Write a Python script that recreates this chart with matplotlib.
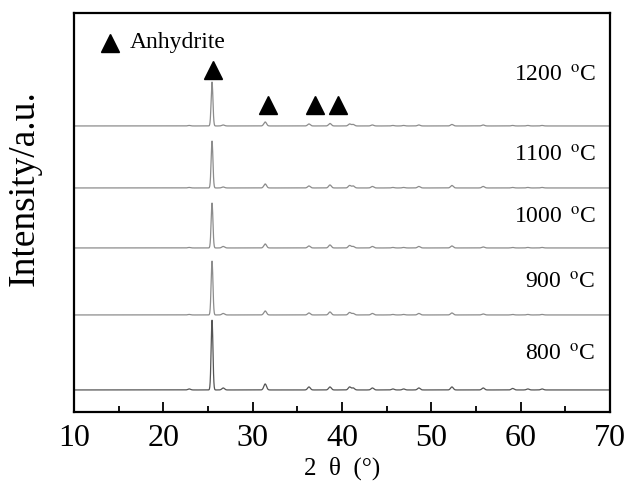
import numpy as np
import matplotlib.pyplot as plt
from matplotlib.ticker import MultipleLocator

plt.rcParams['mathtext.fontset'] = 'stix'

# temperatures, bottom to top
temps = ['800', '900', '1000', '1100', '1200']

# anhydrite reflections (2theta, degrees)
peak_pos = [22.9, 25.45, 26.7, 31.4, 36.3, 38.65, 40.85, 41.25, 43.4,
            45.7, 46.9, 48.6, 52.3, 55.8, 59.1, 60.8, 62.4]

# peak heights per pattern (a.u.)
h_800 = [1, 70, 2, 6, 3, 3, 3, 2, 2, 1, 1, 2, 3, 2, 1.5, 1, 1]
h_900 = [0.5, 54, 1.5, 4, 2, 3, 2.5, 1.5, 1.5, 0.5, 0.5, 1.5, 2, 1, 0.5, 0.5, 0.5]
h_1000 = [0.5, 45, 1.5, 4, 2, 3, 2.5, 1.5, 1.5, 0.5, 0.5, 1.5, 2, 1, 0.5, 0.5, 0.5]
h_1100 = [0.5, 47, 1, 4, 2, 3, 2.5, 2, 1.5, 0.5, 0.5, 1.5, 2.5, 1.5, 0.5, 0.5, 0.5]
h_1200 = [0.5, 44, 1, 4, 2, 2.5, 2, 1.5, 1, 0.5, 0.5, 1, 1.5, 1, 0.5, 0.5, 0.5]
heights = [h_800, h_900, h_1000, h_1100, h_1200]

# vertical stacking offsets
offsets = [22, 97, 164, 224, 286]

# marked anhydrite peaks
mark_x = [25.6, 31.7, 37.0, 39.5]
mark_y = [342, 307, 307, 307]

tth = np.arange(10, 70.001, 0.02)


def pattern(h):
    y = np.zeros_like(tth)
    for p, a in zip(peak_pos, h):
        w = 0.1 if a > 20 else 0.15
        y += a * np.exp(-0.5 * ((tth - p) / w) ** 2)
    return y


fig = plt.figure(figsize=(6.27, 4.91), dpi=100)
ax = fig.add_axes([0.118, 0.161, 0.855, 0.8126])

serif = ['Liberation Serif', 'DejaVu Serif']

for t, h, off in zip(temps, heights, offsets):
    col = '#555555' if t == '800' else '#8c8c8c'
    ax.plot(tth, pattern(h) + off, color=col, lw=0.9)

label_y = [57, 129, 194, 256, 336]
for t, ly in zip(temps, label_y):
    ax.text(68.4, ly, t + r' $\,^{\mathrm{o}}$C', ha='right', va='center',
            fontsize=17, family=serif)

ax.plot(mark_x, mark_y, '^', color='black', ms=13, clip_on=False)
ax.plot([14.0], [369], '^', color='black', ms=13)
ax.text(16.2, 369, 'Anhydrite', ha='left', va='center', fontsize=17,
        family=serif)

ax.set_xlim(10, 70)
ax.set_ylim(0, 399)
ax.xaxis.set_major_locator(MultipleLocator(10))
ax.xaxis.set_minor_locator(MultipleLocator(5))
ax.tick_params(axis='x', which='major', direction='in', length=7, width=1.3,
               pad=9, labelsize=23)
ax.tick_params(axis='x', which='minor', direction='in', length=4, width=1.3)
ax.set_yticks([])
for lab in ax.get_xticklabels():
    lab.set_family(serif)
for s in ax.spines.values():
    s.set_linewidth(1.6)

ax.set_xlabel('2  θ  (°)', fontsize=18, family=serif, labelpad=2)
ax.set_ylabel('Intensity/a.u.', fontsize=27, family=serif)
ax.yaxis.set_label_coords(-0.06, 0.56)

fig.savefig('out.png', dpi=100)
